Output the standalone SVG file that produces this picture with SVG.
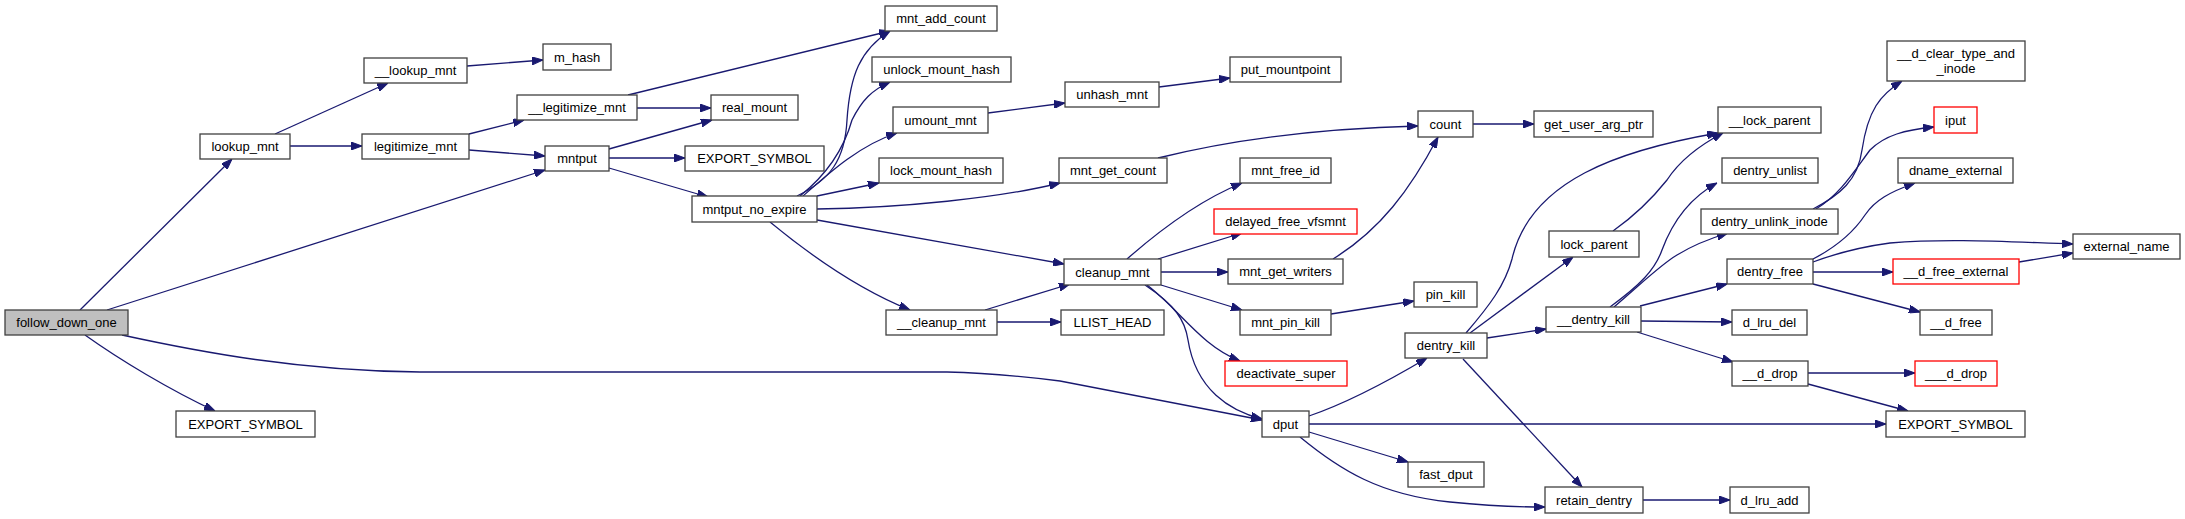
<svg xmlns="http://www.w3.org/2000/svg" width="2185" height="519" viewBox="0 0 2185 519">
<style>
.n rect{fill:#fff;stroke:#404040;stroke-width:1.3}
.n.r rect{stroke:#ff0000}
.n.g rect{fill:#bfbfbf}
.n text{font-family:"Liberation Sans",Arial,sans-serif;font-size:13px;text-anchor:middle;fill:#000}
#edges path{fill:none;stroke:#191970;stroke-width:1.3;marker-end:url(#a)}
</style>
<defs>
<marker id="a" markerWidth="11" markerHeight="8" refX="11" refY="4" orient="auto" markerUnits="userSpaceOnUse"><path d="M0,0 L11,4 L0,8 z" fill="#191970" stroke="#191970"/></marker>
</defs>
<rect width="2185" height="519" fill="#fff"/>
<g id="edges">
<path d="M80,310 L232,159"/>
<path d="M107,310 L545,170"/>
<path d="M122,335 C200,352 300,371 420,372 L947,372 C990,373 1020,376 1060,381 L1262,420"/>
<path d="M85,335 C120,360 170,390 215,411"/>
<path d="M275,134 L388,83"/>
<path d="M290,146 L362,146"/>
<path d="M467,66 L543,60"/>
<path d="M469,134 L524,120"/>
<path d="M469,150 L545,156"/>
<path d="M637,108 L711,108"/>
<path d="M628,95 L890,31"/>
<path d="M609,149 L712,120"/>
<path d="M609,158 L685,158"/>
<path d="M609,168 L708,197"/>
<path d="M797,196 C830,180 845,160 847,120 C850,75 860,50 890,31"/>
<path d="M800,196 C830,172 845,145 852,120 C862,100 872,90 890,82"/>
<path d="M803,196 C830,172 860,145 897,133"/>
<path d="M817,196 L879,183"/>
<path d="M817,209 C900,208 1000,198 1060,183"/>
<path d="M817,220 L1064,264"/>
<path d="M770,222 C810,255 860,290 910,310"/>
<path d="M988,113 L1065,103"/>
<path d="M1159,87 L1230,78"/>
<path d="M1158,158 C1250,135 1340,128 1418,126"/>
<path d="M985,310 L1070,284"/>
<path d="M997,322 L1061,322"/>
<path d="M1127,259 C1160,230 1200,200 1242,183"/>
<path d="M1158,259 L1242,233"/>
<path d="M1161,272 L1228,272"/>
<path d="M1161,285 L1242,310"/>
<path d="M1147,285 C1180,310 1200,345 1240,361"/>
<path d="M1145,285 C1175,305 1185,320 1188,340 C1196,390 1230,411 1262,419"/>
<path d="M1333,259 C1380,230 1410,190 1438,137"/>
<path d="M1331,314 L1414,301"/>
<path d="M1309,416 C1350,402 1390,380 1427,358"/>
<path d="M1309,424 L1886,424"/>
<path d="M1309,432 L1408,462"/>
<path d="M1300,437 C1340,470 1380,495 1450,502 C1490,506 1520,507 1545,507"/>
<path d="M1473,124 L1534,124"/>
<path d="M1466,333 C1490,305 1505,285 1512,259 C1530,180 1620,150 1718,133"/>
<path d="M1470,333 L1573,257"/>
<path d="M1487,338 L1546,329"/>
<path d="M1463,359 L1582,487"/>
<path d="M1613,231 C1640,212 1655,195 1667,180 C1680,160 1700,145 1723,133"/>
<path d="M1610,307 C1640,285 1655,270 1662,250 C1675,215 1695,195 1717,183"/>
<path d="M1614,307 C1640,285 1660,265 1677,255 C1690,247 1705,240 1728,233"/>
<path d="M1640,306 L1727,284"/>
<path d="M1641,321 L1732,322"/>
<path d="M1637,332 L1733,362"/>
<path d="M1813,272 L1893,272"/>
<path d="M1813,284 L1920,312"/>
<path d="M2019,262 L2073,253"/>
<path d="M1813,262 C1840,252 1860,247 1890,243 C1950,238 2010,242 2073,244"/>
<path d="M1813,259 C1840,245 1855,230 1865,215 C1875,200 1890,192 1915,183"/>
<path d="M1813,209 C1840,195 1858,180 1862,150 C1868,110 1880,95 1902,81"/>
<path d="M1816,209 C1840,195 1855,170 1870,150 C1885,135 1905,130 1934,127"/>
<path d="M1808,373 L1915,373"/>
<path d="M1808,384 L1908,411"/>
<path d="M1643,500 L1730,500"/>
</g>
<g id="follow_down_one" class="n g"><rect x="5" y="310" width="123" height="25"/><text x="66.5" y="327">follow_down_one</text></g>
<g id="lookup_mnt" class="n"><rect x="200" y="134" width="90" height="25"/><text x="245" y="151">lookup_mnt</text></g>
<g id="EXPORT_SYMBOL_1" class="n"><rect x="176" y="411" width="139" height="26"/><text x="245.5" y="428.5">EXPORT_SYMBOL</text></g>
<g id="__lookup_mnt" class="n"><rect x="364" y="58" width="103" height="25"/><text x="415.5" y="75">__lookup_mnt</text></g>
<g id="legitimize_mnt" class="n"><rect x="362" y="134" width="107" height="25"/><text x="415.5" y="151">legitimize_mnt</text></g>
<g id="m_hash" class="n"><rect x="543" y="44" width="68" height="26"/><text x="577" y="61.5">m_hash</text></g>
<g id="__legitimize_mnt" class="n"><rect x="517" y="95" width="120" height="25"/><text x="577" y="112">__legitimize_mnt</text></g>
<g id="mntput" class="n"><rect x="545" y="146" width="64" height="25"/><text x="577" y="163">mntput</text></g>
<g id="real_mount" class="n"><rect x="711" y="95" width="87" height="25"/><text x="754.5" y="112">real_mount</text></g>
<g id="EXPORT_SYMBOL_2" class="n"><rect x="685" y="146" width="139" height="25"/><text x="754.5" y="163">EXPORT_SYMBOL</text></g>
<g id="mntput_no_expire" class="n"><rect x="692" y="196" width="125" height="26"/><text x="754.5" y="213.5">mntput_no_expire</text></g>
<g id="mnt_add_count" class="n"><rect x="885" y="6" width="112" height="25"/><text x="941" y="23">mnt_add_count</text></g>
<g id="unlock_mount_hash" class="n"><rect x="872" y="57" width="139" height="25"/><text x="941.5" y="74">unlock_mount_hash</text></g>
<g id="umount_mnt" class="n"><rect x="893" y="107" width="95" height="26"/><text x="940.5" y="124.5">umount_mnt</text></g>
<g id="lock_mount_hash" class="n"><rect x="879" y="158" width="124" height="25"/><text x="941" y="175">lock_mount_hash</text></g>
<g id="unhash_mnt" class="n"><rect x="1065" y="82" width="94" height="25"/><text x="1112" y="99">unhash_mnt</text></g>
<g id="mnt_get_count" class="n"><rect x="1059" y="158" width="108" height="25"/><text x="1113" y="175">mnt_get_count</text></g>
<g id="cleanup_mnt" class="n"><rect x="1064" y="259" width="97" height="26"/><text x="1112.5" y="276.5">cleanup_mnt</text></g>
<g id="__cleanup_mnt" class="n"><rect x="886" y="310" width="111" height="25"/><text x="941.5" y="327">__cleanup_mnt</text></g>
<g id="LLIST_HEAD" class="n"><rect x="1061" y="310" width="103" height="25"/><text x="1112.5" y="327">LLIST_HEAD</text></g>
<g id="put_mountpoint" class="n"><rect x="1230" y="57" width="111" height="25"/><text x="1285.5" y="74">put_mountpoint</text></g>
<g id="count" class="n"><rect x="1418" y="111" width="55" height="26"/><text x="1445.5" y="128.5">count</text></g>
<g id="mnt_free_id" class="n"><rect x="1240" y="158" width="91" height="25"/><text x="1285.5" y="175">mnt_free_id</text></g>
<g id="delayed_free_vfsmnt" class="n r"><rect x="1214" y="209" width="143" height="25"/><text x="1285.5" y="226">delayed_free_vfsmnt</text></g>
<g id="mnt_get_writers" class="n"><rect x="1228" y="259" width="115" height="25"/><text x="1285.5" y="276">mnt_get_writers</text></g>
<g id="mnt_pin_kill" class="n"><rect x="1240" y="310" width="91" height="25"/><text x="1285.5" y="327">mnt_pin_kill</text></g>
<g id="pin_kill" class="n"><rect x="1414" y="282" width="63" height="25"/><text x="1445.5" y="299">pin_kill</text></g>
<g id="deactivate_super" class="n r"><rect x="1225" y="361" width="122" height="25"/><text x="1286" y="378">deactivate_super</text></g>
<g id="dput" class="n"><rect x="1262" y="411" width="47" height="26"/><text x="1285.5" y="428.5">dput</text></g>
<g id="dentry_kill" class="n"><rect x="1405" y="333" width="82" height="25"/><text x="1446" y="350">dentry_kill</text></g>
<g id="fast_dput" class="n"><rect x="1408" y="462" width="76" height="25"/><text x="1446" y="479">fast_dput</text></g>
<g id="get_user_arg_ptr" class="n"><rect x="1534" y="111" width="119" height="26"/><text x="1593.5" y="128.5">get_user_arg_ptr</text></g>
<g id="__lock_parent" class="n"><rect x="1718" y="107" width="103" height="26"/><text x="1769.5" y="124.5">__lock_parent</text></g>
<g id="dentry_unlist" class="n"><rect x="1722" y="158" width="96" height="25"/><text x="1770" y="175">dentry_unlist</text></g>
<g id="dentry_unlink_inode" class="n"><rect x="1701" y="209" width="137" height="25"/><text x="1769.5" y="226">dentry_unlink_inode</text></g>
<g id="lock_parent" class="n"><rect x="1549" y="231" width="90" height="26"/><text x="1594" y="248.5">lock_parent</text></g>
<g id="dentry_free" class="n"><rect x="1727" y="259" width="86" height="25"/><text x="1770" y="276">dentry_free</text></g>
<g id="__dentry_kill" class="n"><rect x="1546" y="307" width="95" height="25"/><text x="1593.5" y="324">__dentry_kill</text></g>
<g id="d_lru_del" class="n"><rect x="1732" y="310" width="75" height="25"/><text x="1769.5" y="327">d_lru_del</text></g>
<g id="__d_drop" class="n"><rect x="1732" y="361" width="76" height="25"/><text x="1770" y="378">__d_drop</text></g>
<g id="retain_dentry" class="n"><rect x="1545" y="487" width="98" height="26"/><text x="1594" y="504.5">retain_dentry</text></g>
<g id="d_lru_add" class="n"><rect x="1730" y="487" width="79" height="26"/><text x="1769.5" y="504.5">d_lru_add</text></g>
<g id="__d_clear_type_and_inode" class="n"><rect x="1887" y="41" width="138" height="40"/><text x="1956" y="58">__d_clear_type_and</text><text x="1956" y="73">_inode</text></g>
<g id="iput" class="n r"><rect x="1934" y="107" width="43" height="26"/><text x="1955.5" y="124.5">iput</text></g>
<g id="dname_external" class="n"><rect x="1898" y="158" width="115" height="25"/><text x="1955.5" y="175">dname_external</text></g>
<g id="external_name" class="n"><rect x="2073" y="234" width="107" height="25"/><text x="2126.5" y="251">external_name</text></g>
<g id="__d_free_external" class="n r"><rect x="1893" y="259" width="126" height="25"/><text x="1956" y="276">__d_free_external</text></g>
<g id="__d_free" class="n"><rect x="1920" y="310" width="72" height="25"/><text x="1956" y="327">__d_free</text></g>
<g id="___d_drop" class="n r"><rect x="1915" y="361" width="82" height="25"/><text x="1956" y="378">___d_drop</text></g>
<g id="EXPORT_SYMBOL_3" class="n"><rect x="1886" y="411" width="139" height="26"/><text x="1955.5" y="428.5">EXPORT_SYMBOL</text></g>
</svg>
